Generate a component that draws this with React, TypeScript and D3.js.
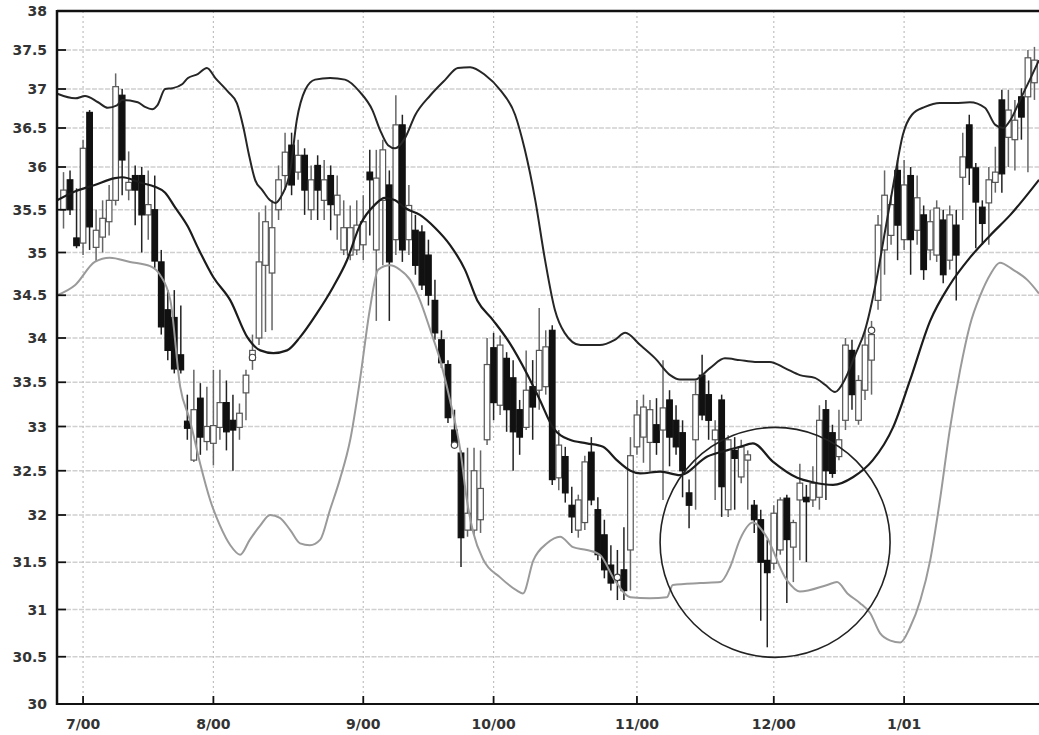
import React from 'react';
import * as d3 from 'd3';

// ---------- data ----------
const yTickValues = [30, 30.5, 31, 31.5, 32, 32.5, 33, 33.5, 34, 34.5, 35, 35.5, 36, 36.5, 37, 37.5, 38];
const yTickLabels = ['30', '30.5', '31', '31.5', '32', '32.5', '33', '33.5', '34', '34.5', '35', '35.5', '36', '36.5', '37', '37.5', '38'];
const monthTickDays = [0, 20, 43, 63, 85, 106, 126];
const monthTickLabels = ['7/00', '8/00', '9/00', '10/00', '11/00', '12/00', '1/01'];

const firstDay = -3;
const opens = [
  35.5, 35.85, 35.17, 35.11, 36.7, 35.06, 35.18, 35.36, 35.61, 36.92, 35.73, 35.9, 35.9, 35.44, 35.5, 34.89, 34.33, 34.24, 33.81, 33.06,
  32.62, 33.32, 32.83, 32.81, 32.99, 33.27, 33.07, 32.99, 33.38, 33.75, 34.0, 34.85, 34.76, 35.5, 35.9, 36.28, 35.94, 36.15, 35.5, 36.02,
  35.61, 35.9, 35.44, 35.03, 34.97, 35.03, 35.09, 35.94, 35.03, 35.61, 35.79, 35.15, 36.54, 35.15, 35.26, 35.24, 34.97, 34.44, 33.98, 33.7,
  32.96, 32.7, 31.84, 31.84, 31.95, 32.85, 33.89, 33.24, 33.77, 33.55, 33.19, 32.99, 33.45, 33.41, 33.45, 34.09, 32.42, 32.66, 32.11, 31.84,
  31.92, 32.71, 32.06, 31.79, 31.47, 31.36, 31.42, 31.63, 32.77, 32.88, 32.82, 33.02, 32.96, 33.3, 33.07, 32.93, 32.25, 32.85, 33.58, 33.36,
  32.85, 33.3, 32.06, 32.73, 32.43, 32.62, 32.11, 31.95, 31.52, 31.49, 31.63, 32.19, 31.66, 32.17, 32.2, 32.17, 32.2, 33.19, 32.93, 32.66,
  33.07, 33.86, 33.07, 33.41, 33.75, 34.44, 35.03, 35.2, 35.96, 35.15, 35.9, 35.26, 35.44, 35.03, 34.97, 35.38, 34.91, 35.32, 35.88, 36.54,
  35.99, 35.53, 35.58, 35.82, 36.86, 36.38, 36.35, 36.9, 36.9, 37.08,
];
const highs = [
  35.94, 35.96, 35.75, 36.35, 36.73, 35.5, 35.61, 35.79, 37.2, 37.0, 36.2, 36.02, 36.0, 35.96, 35.9, 35.03, 34.56, 34.56, 34.38, 33.36,
  33.64, 33.49, 33.45, 33.64, 33.64, 33.52, 33.36, 33.26, 33.64, 34.04, 35.47, 35.55, 35.61, 36.02, 36.44, 36.44, 36.35, 36.24, 36.02, 36.15,
  36.09, 36.02, 35.9, 35.61, 35.55, 35.61, 35.67, 36.22, 36.22, 36.35, 35.96, 36.92, 36.67, 35.79, 35.44, 35.32, 35.15, 34.68, 34.09, 33.75,
  33.19, 32.73, 32.76, 32.76, 32.73, 34.0, 34.06, 34.03, 33.84, 33.75, 33.3, 33.86, 33.75, 34.35, 34.09, 34.15, 32.96, 32.77, 32.32, 32.23,
  32.67, 32.88, 32.2, 31.95, 31.68, 31.63, 31.87, 32.88, 33.3, 33.36, 33.3, 33.32, 33.75, 33.41, 33.24, 33.07, 32.4, 33.52, 33.81, 33.52,
  33.07, 33.36, 32.9, 32.88, 32.85, 32.73, 32.17, 32.06, 31.74, 32.11, 32.2, 32.23, 31.95, 32.58, 32.34, 32.55, 33.24, 33.3, 33.02, 33.19,
  34.0, 33.98, 33.58, 34.09, 34.2, 35.44, 35.96, 35.67, 36.09, 36.09, 36.0, 35.9, 35.55, 35.5, 35.61, 35.5, 35.55, 35.5, 36.44, 36.67,
  36.05, 35.61, 36.0, 36.26, 36.99, 36.99, 36.86, 37.01, 37.5, 37.54,
];
const lows = [
  35.28, 35.44, 35.05, 34.97, 35.03, 34.89, 35.0, 35.2, 35.55, 35.67, 35.61, 35.32, 35.0, 35.15, 34.82, 34.04, 33.75, 33.6, 33.6, 32.85,
  32.6, 32.68, 32.73, 32.56, 32.85, 32.73, 32.5, 32.85, 33.07, 33.64, 33.92, 34.07, 34.09, 35.38, 35.73, 35.67, 35.85, 35.44, 35.38, 35.38,
  35.38, 35.26, 35.15, 34.97, 34.91, 34.97, 34.91, 35.2, 34.2, 34.85, 34.2, 34.97, 34.89, 34.97, 34.74, 34.56, 34.38, 33.98, 33.66, 33.04,
  32.76, 31.45, 31.77, 31.79, 31.81, 32.79, 33.07, 33.13, 32.94, 32.5, 32.68, 32.96, 32.85, 33.19, 33.36, 32.34, 32.28, 32.14, 31.81, 31.76,
  31.84, 32.11, 31.52, 31.33, 31.2, 31.1, 31.1, 31.2, 32.68, 32.59, 32.49, 32.68, 32.17, 32.55, 32.68, 32.2, 31.86, 32.06, 33.07, 32.85,
  32.17, 31.98, 31.98, 32.06, 32.36, 32.06, 31.81, 30.88, 30.6, 31.42, 31.58, 31.07, 31.29, 31.52, 31.5, 32.09, 32.06, 32.17, 32.42, 32.62,
  32.96, 33.19, 33.02, 33.3, 33.36, 34.33, 34.74, 35.09, 34.91, 35.03, 34.74, 35.09, 34.68, 34.91, 34.89, 34.64, 34.8, 34.44, 35.38, 35.79,
  35.05, 35.09, 35.09, 35.7, 35.7, 36.0, 35.96, 36.35, 35.94, 36.86,
];
const closes = [
  35.73, 35.5, 35.08, 36.24, 35.3, 35.26, 35.4, 35.61, 37.03, 36.09, 35.82, 35.73, 35.44, 35.56, 34.9, 34.13, 33.86, 33.65, 33.64, 32.98,
  33.19, 32.88, 33.0, 33.01, 33.27, 32.94, 32.96, 33.15, 33.58, 33.86, 34.89, 35.36, 35.29, 35.85, 36.19, 35.79, 36.15, 35.73, 35.85, 35.73,
  35.85, 35.56, 35.67, 35.29, 35.29, 35.32, 35.36, 35.85, 35.87, 36.22, 34.89, 36.54, 35.03, 35.55, 34.85, 34.62, 34.5, 34.06, 33.72, 33.1,
  32.79, 31.76, 32.02, 32.5, 32.3, 33.7, 33.27, 33.92, 33.19, 32.94, 32.88, 33.41, 33.22, 33.86, 33.9, 32.4, 32.79, 32.25, 31.98, 32.17,
  32.6, 32.17, 31.58, 31.42, 31.28, 31.31, 31.2, 32.67, 33.13, 33.22, 33.19, 32.82, 33.21, 32.88, 32.77, 32.5, 32.11, 33.36, 33.13, 33.07,
  32.96, 32.32, 32.85, 32.64, 32.77, 32.68, 31.95, 31.5, 31.39, 32.02, 32.17, 31.74, 31.92, 32.36, 32.15, 32.36, 33.07, 32.5, 32.47, 32.85,
  33.92, 33.36, 33.52, 33.92, 34.04, 35.32, 35.67, 35.56, 35.32, 35.79, 35.15, 35.64, 34.8, 35.36, 35.52, 34.74, 35.44, 34.97, 36.13, 35.99,
  35.59, 35.34, 35.85, 35.94, 35.92, 36.73, 36.6, 36.64, 37.4, 37.37,
];

// Bollinger bands: [trading day, price]
const upperBand: [number, number][] = [
  [-4.3, 36.95], [-1.2, 36.88], [0.3, 36.91], [2.3, 36.83], [3.8, 36.76], [5.2, 36.79], [6, 36.86], [8.4, 36.83], [9.5, 36.77],
  [10.6, 36.74], [11.4, 36.79], [12.6, 37.0], [13.7, 37.01], [15.2, 37.06], [16.1, 37.14], [17.6, 37.19], [19, 37.27], [20.3, 37.14],
  [22.3, 36.96], [23.6, 36.82], [24.6, 36.51], [25.4, 36.18], [26.4, 35.85], [27.5, 35.73], [28.7, 35.61], [29.5, 35.58], [30.5, 35.67],
  [31.8, 35.96], [32.8, 36.6], [34.1, 36.99], [35.6, 37.12], [37.9, 37.14], [40.2, 37.12], [42.5, 36.96], [44.4, 36.73], [45.6, 36.47],
  [46.8, 36.28], [47.9, 36.24], [49.4, 36.37], [51, 36.67], [53.3, 36.92], [55.6, 37.12], [57.5, 37.27], [59.4, 37.28], [61.7, 37.18],
  [64, 36.99], [66.3, 36.67], [67.8, 36.22], [69.4, 35.61], [70.9, 34.91], [72.4, 34.33], [73.9, 34.06], [76.3, 33.92], [79.3, 33.92],
  [81.6, 33.98], [83.2, 34.06], [85.5, 33.92], [87.8, 33.77], [90.1, 33.58], [91.6, 33.53], [93.9, 33.53], [96.2, 33.66], [98.5, 33.77],
  [100.8, 33.75], [103.1, 33.73], [105.4, 33.73], [107.7, 33.66], [110, 33.58], [112.3, 33.55], [113.9, 33.47], [115.4, 33.39],
  [116.9, 33.53], [118.5, 33.81], [120, 34.09], [121.6, 34.62], [123.1, 35.26], [124.6, 35.9], [125.8, 36.41], [127.2, 36.67],
  [129.2, 36.77], [131.5, 36.82], [133.8, 36.82], [136.1, 36.83], [138.4, 36.76], [140, 36.54], [141.2, 36.5], [142.3, 36.6],
  [143.8, 36.86], [145.3, 37.12], [146.7, 37.37],
];
const middleBand: [number, number][] = [
  [-4, 35.61], [-1.7, 35.7], [1.8, 35.79], [4.9, 35.87], [6, 35.88], [9.1, 35.81], [11, 35.77], [12.6, 35.7], [14.1, 35.53],
  [16.1, 35.3], [17.6, 35.06], [20, 34.71], [22.6, 34.44], [25.2, 34.01], [27.2, 33.86], [29.2, 33.83], [31.3, 33.86], [33.3, 34.01],
  [35.9, 34.29], [38.4, 34.6], [40.5, 34.91], [42.5, 35.32], [44.8, 35.56], [46.3, 35.64], [47.9, 35.61], [49.4, 35.52], [51.7, 35.44],
  [54, 35.29], [56.3, 35.09], [58.6, 34.8], [60.5, 34.44], [62.9, 34.21], [65.5, 33.94], [68.1, 33.6], [70.1, 33.3], [72.1, 32.99],
  [74.7, 32.85], [77.3, 32.81], [79.8, 32.77], [81.9, 32.62], [84, 32.5], [85.5, 32.47], [88.6, 32.49], [91.6, 32.45], [95.8, 32.66],
  [98.8, 32.73], [100.8, 32.77], [102.8, 32.81], [105.9, 32.6], [109.6, 32.42], [112, 32.37], [115.1, 32.34], [118.2, 32.43],
  [121.2, 32.62], [124.3, 32.99], [126.9, 33.52], [130, 34.2], [133, 34.62], [136.1, 34.94], [139.2, 35.2], [142.3, 35.44], [146.7, 35.85],
];
const lowerBand: [number, number][] = [
  [-4, 34.5], [-1.2, 34.62], [1.8, 34.89], [4.1, 34.94], [7.2, 34.89], [10.3, 34.84], [11.8, 34.74], [13.4, 34.44], [14.9, 33.45],
  [16.4, 33.07], [18, 32.57], [19.5, 32.17], [21, 31.89], [22.6, 31.68], [24.1, 31.58], [25.6, 31.74], [27.2, 31.89], [28.7, 32.0],
  [30.2, 31.97], [31.8, 31.84], [33.3, 31.7], [34.8, 31.68], [36.4, 31.74], [37.9, 32.06], [39.4, 32.4], [41, 32.85], [42.5, 33.53],
  [44, 34.33], [45.3, 34.8], [47.1, 34.85], [48.6, 34.8], [50.2, 34.68], [51.7, 34.44], [53.3, 34.09], [54.8, 33.75], [56.3, 33.3],
  [57.9, 32.73], [58.9, 32.17], [59.9, 31.81], [61.4, 31.53], [64, 31.34], [66.6, 31.2], [67.5, 31.17], [69.1, 31.52], [71.2, 31.7],
  [73.2, 31.77], [75.2, 31.66], [77.3, 31.63], [79.3, 31.58], [81.6, 31.31], [84, 31.13], [87, 31.12], [89.6, 31.13], [90.5, 31.26],
  [94.7, 31.28], [97.8, 31.29], [99.3, 31.45], [100.8, 31.74], [102.8, 31.92], [104.7, 31.79], [108, 31.31], [110, 31.19],
  [114.2, 31.26], [115.7, 31.29], [117.3, 31.17], [119.2, 31.07], [120.8, 30.96], [122.3, 30.75], [123.9, 30.67], [125.4, 30.65],
  [126.9, 30.81], [128.5, 31.1], [130, 31.52], [131.5, 32.17], [133, 32.96], [134.6, 33.64], [136.1, 34.15], [137.7, 34.5],
  [139.2, 34.74], [140.7, 34.88], [142.7, 34.8], [144.9, 34.68], [146.7, 34.52],
];

const touchMarkers: [number, number][] = [[26, 33.78], [57, 32.79], [82, 31.34], [121, 34.09]];
const highlightCenter: [number, number] = [106.2, 31.71];

// ---------- chart ----------
const W = 1039;
const H = 735;
const left = 57;
const right = 1039;
const top = 11;
const bottom = 704;

export default function App() {
  const x = d3.scaleLinear().domain([-4, 146.7]).range([left, right]);
  const y = d3.scaleLinear().domain([30, 32, 34, 36, 38]).range([bottom, 515, 338, 167, top]);

  const line = d3
    .line<[number, number]>()
    .x((d) => x(d[0]))
    .y((d) => y(d[1]))
    .curve(d3.curveMonotoneX);

  const candles = opens.map((o, k) => ({
    day: firstDay + k,
    o,
    h: highs[k],
    l: lows[k],
    c: closes[k],
  }));

  const bodyW = 5.6;
  const font = "'DejaVu Sans', Arial, sans-serif";

  return (
    <svg width={W} height={H} style={{ position: 'absolute', left: 0, top: 0, background: '#fff' }}>
      <rect x={0} y={0} width={W} height={H} fill="#fff" />
      <defs>
        <clipPath id="plot">
          <rect x={left} y={top} width={right - left} height={bottom - top} />
        </clipPath>
      </defs>

      {/* horizontal grid */}
      {yTickValues.slice(1, -1).map((v) => (
        <line key={'hg' + v} x1={left + 9} x2={right} y1={y(v)} y2={y(v)} stroke="#d0d0d0" strokeWidth={1.6} strokeDasharray="5,1.5" />
      ))}
      {/* vertical grid */}
      {monthTickDays.map((d) => (
        <line key={'vg' + d} x1={x(d)} x2={x(d)} y1={top} y2={bottom - 8} stroke="#c0c0c0" strokeWidth={1.2} strokeDasharray="2,3" />
      ))}

      <g clipPath="url(#plot)">
        {/* candles */}
        {candles.map((cd) => {
          const up = cd.c >= cd.o;
          const cx = x(cd.day);
          const y0 = y(Math.max(cd.o, cd.c));
          const y1 = y(Math.min(cd.o, cd.c));
          return (
            <g key={'c' + cd.day}>
              <line x1={cx} x2={cx} y1={y(cd.h)} y2={y(cd.l)} stroke={up ? '#666' : '#222'} strokeWidth={1.5} />
              <rect
                x={cx - bodyW / 2}
                y={y0}
                width={bodyW}
                height={Math.max(1.5, y1 - y0)}
                fill={up ? '#fff' : '#111'}
                stroke={up ? '#555' : '#111'}
                strokeWidth={1.2}
              />
            </g>
          );
        })}

        {/* bands */}
        <path d={line(lowerBand) || ''} fill="none" stroke="#9a9a9a" strokeWidth={2} />
        <path d={line(upperBand) || ''} fill="none" stroke="#262626" strokeWidth={2} />
        <path d={line(middleBand) || ''} fill="none" stroke="#1c1c1c" strokeWidth={2.2} />

        {/* markers */}
        {touchMarkers.map(([d, v]) => (
          <circle key={'m' + d} cx={x(d)} cy={y(v)} r={3.2} fill="#fff" stroke="#444" strokeWidth={1.2} />
        ))}

        {/* highlight circle */}
        <circle cx={x(highlightCenter[0])} cy={y(highlightCenter[1])} r={115} fill="none" stroke="#222" strokeWidth={1.6} />
      </g>

      {/* axes */}
      <line x1={left} x2={right} y1={top} y2={top} stroke="#111" strokeWidth={2.5} />
      <line x1={left} x2={left} y1={top - 1} y2={bottom + 1} stroke="#111" strokeWidth={2.5} />
      <line x1={left} x2={right} y1={bottom} y2={bottom} stroke="#111" strokeWidth={2} />

      {yTickValues.map((v, k) => (
        <g key={'yt' + v}>
          <line x1={left} x2={left + 9} y1={y(v)} y2={y(v)} stroke="#111" strokeWidth={1.8} />
          <text x={47} y={y(v)} dy="0.36em" textAnchor="end" fontFamily={font} fontWeight="bold" fontSize={14} fill="#333">
            {yTickLabels[k]}
          </text>
        </g>
      ))}

      {monthTickDays.map((d, k) => (
        <g key={'xt' + d}>
          <line x1={x(d)} x2={x(d)} y1={bottom} y2={bottom - 8} stroke="#111" strokeWidth={1.8} />
          <text x={x(d)} y={729} textAnchor="middle" fontFamily={font} fontWeight="bold" fontSize={14} fill="#333">
            {monthTickLabels[k]}
          </text>
        </g>
      ))}
    </svg>
  );
}
